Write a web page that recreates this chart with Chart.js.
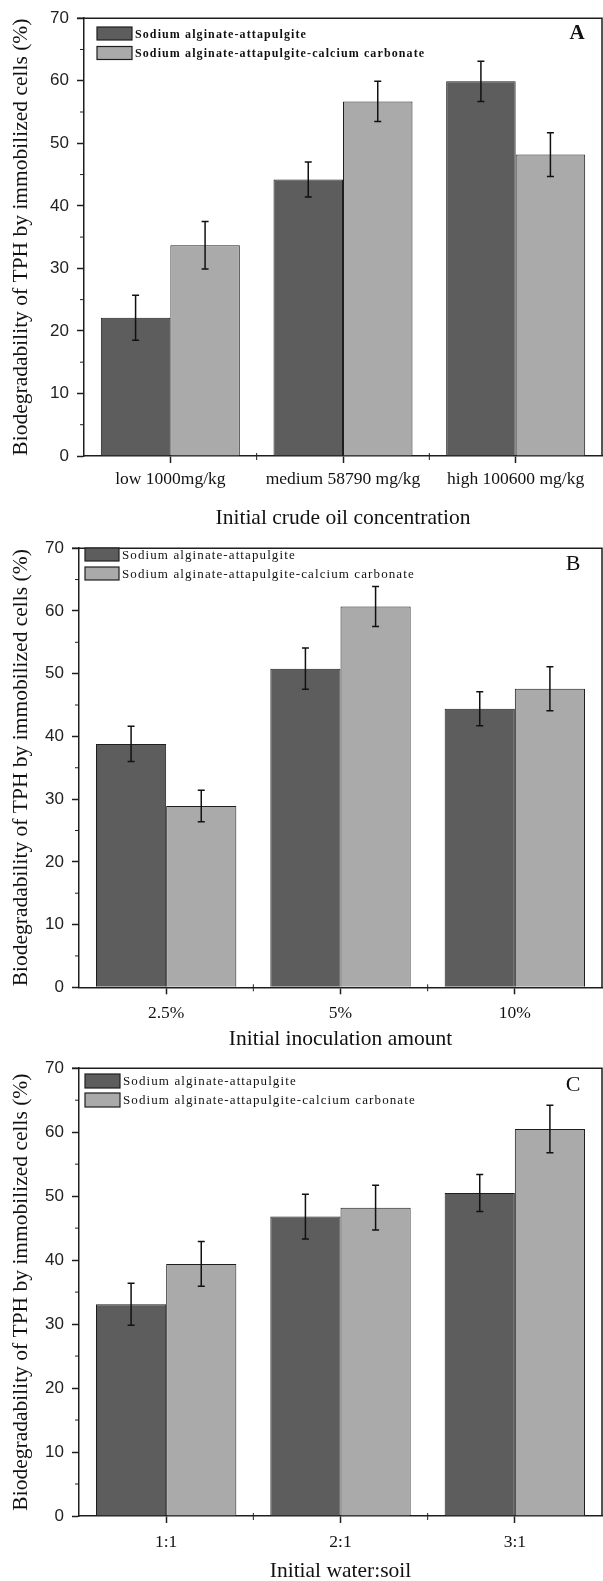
<!DOCTYPE html>
<html><head><meta charset="utf-8">
<script src="https://cdn.jsdelivr.net/npm/chart.js@4.4.0/dist/chart.umd.min.js"></script>
<style>
html,body{margin:0;padding:0;background:#fff;width:603px;height:1581px;overflow:hidden}
.p{position:absolute;left:0;width:603px}
</style></head><body>
<div class="p" style="top:0;height:530px"><canvas id="cA"></canvas></div>
<div class="p" style="top:530px;height:520px"><canvas id="cB"></canvas></div>
<div class="p" style="top:1050px;height:531px"><canvas id="cC"></canvas></div>
<script>
const seriesNames = ['Sodium alginate-attapulgite', 'Sodium alginate-attapulgite-calcium carbonate'];
const yTitle = 'Biodegradability of TPH by immobilized cells (%)';

const catsA = ['low 1000mg/kg', 'medium 58790 mg/kg', 'high 100600 mg/kg'];
const darkA = [22.1, 44.2, 59.9];
const darkErrA = [3.6, 2.8, 3.2];
const lightA = [33.7, 56.7, 48.2];
const lightErrA = [3.8, 3.2, 3.5];

const catsB = ['2.5%', '5%', '10%'];
const darkB = [38.8, 50.8, 44.4];
const darkErrB = [2.8, 3.3, 2.7];
const lightB = [28.9, 60.7, 47.6];
const lightErrB = [2.5, 3.2, 3.5];

const catsC = ['1:1', '2:1', '3:1'];
const darkC = [33.1, 46.8, 50.5];
const darkErrC = [3.3, 3.5, 2.9];
const lightC = [39.4, 48.2, 60.5];
const lightErrC = [3.5, 3.5, 3.7];

const yMin = 0, yMax = 70, yStep = 10, yMinorStep = 5;

const DARK = '#5d5d5d', LIGHT = '#aaaaaa', INK = '#1e1e1e';
const SERIF = "'Liberation Serif','Times New Roman',serif";
const NUMF = "'Liberation Sans Narrow','Liberation Sans',Arial,sans-serif";

const decor = {
  id: 'decor',
  afterDatasetsDraw(chart) {
    const o = chart.options.plugins.decor;
    const ctx = chart.ctx, ca = chart.chartArea, xs = chart.scales.x, ys = chart.scales.y;
    ctx.save();
    chart.data.datasets.forEach((ds, i) => {
      const meta = chart.getDatasetMeta(i);
      meta.data.forEach((bar, j) => {
        const v = ds.data[j], e = ds.errors[j];
        const yt = ys.getPixelForValue(v + e), yb = ys.getPixelForValue(v - e);
        ctx.strokeStyle = '#111'; ctx.lineWidth = 1.5;
        ctx.beginPath();
        ctx.moveTo(bar.x, yt); ctx.lineTo(bar.x, yb);
        ctx.moveTo(bar.x - 3.5, yt); ctx.lineTo(bar.x + 3.5, yt);
        ctx.moveTo(bar.x - 3.5, yb); ctx.lineTo(bar.x + 3.5, yb);
        ctx.stroke();
      });
    });
    ctx.strokeStyle = INK; ctx.lineWidth = 1.5;
    ctx.beginPath();
    ctx.moveTo(ca.left - 7, ca.top); ctx.lineTo(ca.right, ca.top);
    ctx.lineTo(ca.right, ca.bottom);
    ctx.stroke();
    ctx.lineWidth = 1;
    ctx.beginPath();
    for (let v = yMin + yMinorStep; v < yMax; v += yStep) {
      const y = ys.getPixelForValue(v);
      ctx.moveTo(ca.left - 4, y); ctx.lineTo(ca.left, y);
    }
    const n = chart.data.labels.length;
    for (let i = 0; i < n - 1; i++) {
      const x = (xs.getPixelForValue(i) + xs.getPixelForValue(i + 1)) / 2;
      ctx.moveTo(x, ca.bottom - 3); ctx.lineTo(x, ca.bottom + 4);
    }
    ctx.stroke();
    chart.data.datasets.forEach((ds, i) => {
      const bx = o.legendX, by = o.legendY + i * o.legendGap;
      ctx.fillStyle = ds.backgroundColor;
      ctx.fillRect(bx, by, o.boxW, o.boxH);
      ctx.strokeStyle = INK; ctx.lineWidth = 1.2;
      ctx.strokeRect(bx, by, o.boxW, o.boxH);
      ctx.fillStyle = '#111';
      ctx.font = o.legendFont;
      ctx.letterSpacing = o.legendSpacing;
      ctx.textAlign = 'left'; ctx.textBaseline = 'middle';
      ctx.fillText(ds.label, bx + o.boxW + 3, by + o.boxH / 2 + 1);
    });
    ctx.letterSpacing = '0px';
    ctx.fillStyle = '#111';
    ctx.font = o.letterFont;
    ctx.textAlign = 'center'; ctx.textBaseline = 'middle';
    ctx.fillText(o.letter, o.letterX, o.letterY);
    ctx.restore();
  }
};

function makeChart(id, cfg) {
  return new Chart(document.getElementById(id), {
    type: 'bar',
    data: {
      labels: cfg.cats,
      datasets: [
        { label: seriesNames[0], data: cfg.dark, errors: cfg.darkErr, backgroundColor: DARK,
          borderColor: INK, borderWidth: 1, categoryPercentage: 0.805, barPercentage: 1.0 },
        { label: seriesNames[1], data: cfg.light, errors: cfg.lightErr, backgroundColor: LIGHT,
          borderColor: INK, borderWidth: 1, categoryPercentage: 0.805, barPercentage: 1.0 }
      ]
    },
    options: {
      responsive: true, maintainAspectRatio: false, animation: false,
      layout: { padding: { top: cfg.top, left: 0, right: 1, bottom: 0 } },
      plugins: {
        legend: { display: false }, tooltip: { enabled: false },
        decor: cfg.decor
      },
      scales: {
        x: {
          offset: true,
          grid: { offset: false, drawOnChartArea: false, drawTicks: true, tickLength: 7, color: INK, tickWidth: 1.5 },
          border: { display: true, color: INK, width: 1.5 },
          ticks: { font: { family: SERIF, size: 17.5 }, color: '#111', padding: cfg.xPad, maxRotation: 0, autoSkip: false },
          title: { display: true, text: cfg.xTitle, color: '#111',
                   font: { family: SERIF, size: 21.5, lineHeight: 1 }, padding: { top: 0, bottom: cfg.xTitlePad } },
          afterFit(s) { s.height = cfg.xH; }
        },
        y: {
          min: yMin, max: yMax,
          grid: { drawOnChartArea: false, drawTicks: true, tickLength: 7, color: INK, tickWidth: 1.5 },
          border: { display: true, color: INK, width: 1.5 },
          ticks: { stepSize: yStep, font: { family: NUMF, size: 17 }, color: '#222', padding: 8 },
          title: { display: true, text: yTitle, color: '#111',
                   font: { family: SERIF, size: 21.5, lineHeight: 1.2 }, padding: { top: 8, bottom: 0 } },
          afterFit(s) { s.width = cfg.axisLeft; }
        }
      }
    },
    plugins: [decor]
  });
}

makeChart('cA', {
  cats: catsA, dark: darkA, darkErr: darkErrA, light: lightA, lightErr: lightErrA,
  xTitle: 'Initial crude oil concentration', top: 16, xH: 74, xPad: 6, xTitlePad: 1, axisLeft: 84,
  decor: { legendX: 97, legendY: 27, legendGap: 19.5, boxW: 35, boxH: 13,
           legendFont: "bold 12px " + SERIF, legendSpacing: '1.1px',
           letter: 'A', letterFont: "bold 21px " + SERIF, letterX: 577, letterY: 34 }
});
makeChart('cB', {
  cats: catsB, dark: darkB, darkErr: darkErrB, light: lightB, lightErr: lightErrB,
  xTitle: 'Initial inoculation amount', top: 12.7, xH: 62.7, xPad: 8.5, xTitlePad: 0, axisLeft: 79,
  decor: { legendX: 85, legendY: 18, legendGap: 19, boxW: 34, boxH: 13,
           legendFont: "13px " + SERIF, legendSpacing: '1.1px',
           letter: 'B', letterFont: "22px " + SERIF, letterX: 573, letterY: 34 }
});
makeChart('cC', {
  cats: catsC, dark: darkC, darkErr: darkErrC, light: lightC, lightErr: lightErrC,
  xTitle: 'Initial water:soil', top: 17.3, xH: 65, xPad: 8.5, xTitlePad: -1, axisLeft: 79,
  decor: { legendX: 85, legendY: 24, legendGap: 19, boxW: 35, boxH: 14,
           legendFont: "13px " + SERIF, legendSpacing: '1.1px',
           letter: 'C', letterFont: "22px " + SERIF, letterX: 573, letterY: 35 }
});
</script>
</body></html>
